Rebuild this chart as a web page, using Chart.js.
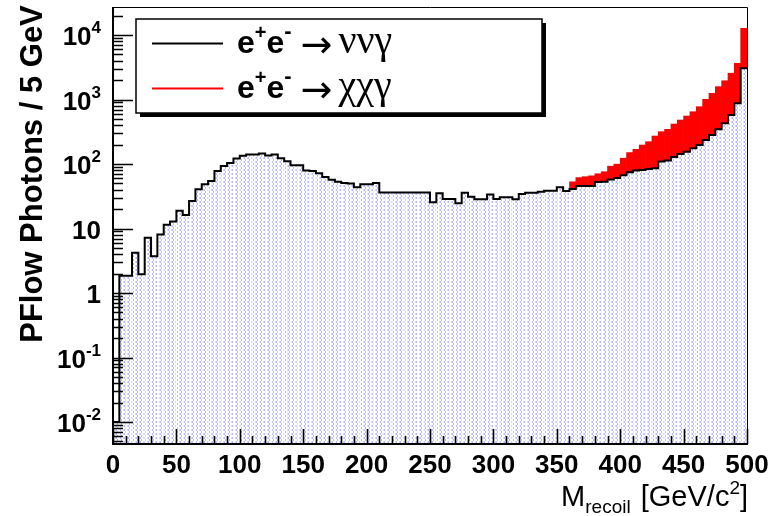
<!DOCTYPE html>
<html>
<head>
<meta charset="utf-8">
<title>Recoil mass</title>
<script src="https://cdn.jsdelivr.net/npm/chart.js@4.4.1/dist/chart.umd.min.js"></script>
<style>
  body { margin: 0; background: #fff; }
  canvas { display: block; }
</style>
</head>
<body>
<canvas id="recoilChart" width="772" height="516"></canvas>
<script>
// Recoil mass of PFlow photons, 5 GeV bins from 0 to 500 GeV/c^2
const binLow = 0;
const binWidth = 5;

// e+e- -> nu nu gamma, one entry per bin
const nunuGamma = [
  0.01, 1.86, 1.86, 4.2, 1.95, 7.2, 3.7, 8.1, 11.4, 12.8,
  18.9, 16.2, 26.7, 40.5, 48.4, 54.5, 77.8, 93, 104, 122,
  134, 140, 140, 146, 136, 140, 123, 110, 96, 96,
  79, 78, 72, 63, 57, 53, 51, 50, 43.5, 48.4,
  48.4, 51, 36.3, 36.3, 36.3, 36.3, 36.3, 36.3, 36.3, 36.3,
  25.5, 35.1, 28.7, 28.7, 24.6, 35.9, 31.2, 28.5, 28.5, 33.8,
  28.7, 30.4, 30.4, 28.5, 34.2, 35.8, 35.8, 37.2, 38.6, 38.6,
  43.8, 38.2, 41, 45.6, 45.6, 45.6, 52.6, 53, 57.7, 60.5,
  67, 74.5, 79, 81, 84, 85.7, 109, 113, 129, 143,
  155, 175, 197, 236, 282, 345, 427, 574, 872, 3045
];

// e+e- -> chi chi gamma, stacked on top of the background from 360 GeV
const signalFrom = 360;
const chichiGamma = [
  12, 16, 18, 20, 18, 23, 35, 39, 56, 76,
  90, 116, 138, 186, 208, 232, 288, 338, 400, 472,
  577, 771, 966, 1238, 1528, 1986, 2768, 9655
];

const seriesNames = ['ννγ', 'χχγ'];
const seriesColours = ['#000000', '#ff0000'];

const xTicks = [0, 50, 100, 150, 200, 250, 300, 350, 400, 450, 500];
const yTicks = [1e-2, 1e-1, 1, 10, 1e2, 1e3, 1e4];
const yTickLabels = [['10', '-2'], ['10', '-1'], ['1', ''], ['10', ''], ['10', '2'], ['10', '3'], ['10', '4']];
const yMin = 0.00456;
const yMax = 27200;

const SANS = '"Liberation Sans", Arial, Helvetica, sans-serif';
const SERIF = '"Liberation Serif", "Times New Roman", serif';

const canvas = document.getElementById('recoilChart');
const ctx2d = canvas.getContext('2d');

// light blue hatch used for the background histogram
function makeHatch() {
  const tile = document.createElement('canvas');
  tile.width = 4;
  tile.height = 4;
  const g = tile.getContext('2d');
  g.fillStyle = '#ffffff';
  g.fillRect(0, 0, 4, 4);
  g.fillStyle = 'rgb(182,182,246)';
  [[1, 0], [0, 1], [0, 2], [1, 3]].forEach(([px, py]) => g.fillRect(px, py, 1, 1));
  g.fillStyle = 'rgb(214,214,250)';
  [[3, 1], [3, 2]].forEach(([px, py]) => g.fillRect(px, py, 1, 1));
  return ctx2d.createPattern(tile, 'repeat');
}

const centre = i => binLow + binWidth * (i + 0.5);
const firstSignalBin = (signalFrom - binLow) / binWidth;

const backgroundBars = nunuGamma.map((v, i) => ({ x: centre(i), y: v }));
const signalBars = chichiGamma.map((v, i) => ({ x: centre(firstSignalBin + i), y: v }));

// outline: one point per lower bin edge, plus the closing edge
const outline = nunuGamma.map((v, i) => ({ x: binLow + binWidth * i, y: v }));
outline.push({ x: binLow + binWidth * nunuGamma.length, y: nunuGamma[nunuGamma.length - 1] });

// draw a run of text pieces (base text, sub- and superscripts) left to right
function drawParts(ctx, x, baseline, parts) {
  for (const p of parts) {
    ctx.font = p.font;
    x += p.before || 0;
    ctx.fillText(p.text, x, baseline + (p.dy || 0));
    x += ctx.measureText(p.text).width + (p.after || 0);
  }
  return x;
}

function partsWidth(ctx, parts) {
  let w = 0;
  for (const p of parts) {
    ctx.font = p.font;
    w += (p.before || 0) + ctx.measureText(p.text).width + (p.after || 0);
  }
  return w;
}

// frame, inward ticks, labels, titles and the legend box
const rootFrame = {
  id: 'rootFrame',
  afterDraw(chart) {
    const { ctx, chartArea: a, scales: { x, y } } = chart;
    ctx.save();
    ctx.strokeStyle = '#000';
    ctx.fillStyle = '#000';

    // top and right of the frame
    ctx.lineWidth = 1;
    ctx.beginPath();
    ctx.moveTo(a.left, a.top + 0.5);
    ctx.lineTo(a.right + 0.5, a.top + 0.5);
    ctx.lineTo(a.right + 0.5, a.bottom);
    ctx.stroke();

    // axis lines
    ctx.lineWidth = 2;
    ctx.beginPath();
    ctx.moveTo(a.left, a.top);
    ctx.lineTo(a.left, a.bottom);
    ctx.lineTo(a.right + 1, a.bottom);
    ctx.stroke();

    // x ticks every 10, long ones on the labels
    ctx.lineWidth = 1.6;
    ctx.beginPath();
    for (let v = xTicks[0]; v <= xTicks[xTicks.length - 1]; v += 10) {
      const px = Math.round(x.getPixelForValue(v)) + 0.5;
      const len = xTicks.includes(v) ? 15 : 8;
      ctx.moveTo(px, a.bottom);
      ctx.lineTo(px, a.bottom - len);
    }
    ctx.stroke();

    // y ticks, 1..9 per decade
    ctx.lineWidth = 1.5;
    ctx.beginPath();
    for (let e = -3; e <= 4; e++) {
      for (let k = 1; k <= 9; k++) {
        const v = k * Math.pow(10, e);
        if (v < y.min || v > y.max) continue;
        const py = Math.round(y.getPixelForValue(v)) + 0.5;
        ctx.moveTo(a.left, py);
        ctx.lineTo(a.left + (k === 1 ? 20 : 10), py);
      }
    }
    ctx.stroke();

    // x tick labels
    ctx.font = 'bold 26px ' + SANS;
    ctx.textAlign = 'center';
    ctx.textBaseline = 'alphabetic';
    xTicks.forEach(v => ctx.fillText(String(v), x.getPixelForValue(v), 473));

    // y tick labels with superscript exponents
    ctx.textAlign = 'left';
    yTicks.forEach((v, i) => {
      const [base, exp] = yTickLabels[i];
      const py = y.getPixelForValue(v);
      const parts = [{ text: base, font: 'bold 26px ' + SANS }];
      if (exp) parts.push({ text: exp, font: 'bold 17px ' + SANS, dy: -12 });
      const w = partsWidth(ctx, parts);
      drawParts(ctx, 101 - w, py + 10, parts);
    });

    // y title
    ctx.save();
    ctx.translate(42, 174);
    ctx.rotate(-Math.PI / 2);
    ctx.textAlign = 'center';
    ctx.font = 'bold 31px ' + SANS;
    ctx.fillText('PFlow Photons / 5 GeV', 0, 0);
    ctx.restore();

    // x title
    ctx.textAlign = 'left';
    const xTitle = [
      { text: 'M', font: '29px ' + SANS },
      { text: 'recoil', font: '19px ' + SANS, dy: 7, after: 2 },
      { text: ' [GeV/c', font: '29px ' + SANS },
      { text: '2', font: '19px ' + SANS, dy: -12 },
      { text: ']', font: '29px ' + SANS }
    ];
    drawParts(ctx, 748 - partsWidth(ctx, xTitle), 506, xTitle);

    // legend box with drop shadow
    const box = { left: 136, top: 19, width: 406, height: 94 };
    ctx.fillRect(box.left + 4, box.top + 4, box.width, box.height);
    ctx.fillStyle = '#fff';
    ctx.fillRect(box.left, box.top, box.width, box.height);
    ctx.lineWidth = 1.5;
    ctx.strokeRect(box.left, box.top, box.width, box.height);

    seriesNames.forEach((name, i) => {
      const rowY = 43.5 + 45 * i;
      ctx.strokeStyle = seriesColours[i];
      ctx.lineWidth = 2;
      ctx.beginPath();
      ctx.moveTo(152, rowY);
      ctx.lineTo(223, rowY);
      ctx.stroke();

      ctx.fillStyle = '#000';
      drawParts(ctx, 237, rowY + 9.5, [
        { text: 'e', font: 'bold 32px ' + SANS },
        { text: '+', font: 'bold 20px ' + SANS, dy: -14 },
        { text: 'e', font: 'bold 32px ' + SANS },
        { text: '-', font: 'bold 22px ' + SANS, dy: -15, after: 9 },
        { text: '→', font: '38px "DejaVu Sans", sans-serif', dy: 4, after: 6 },
        { text: name, font: '40px ' + SERIF }
      ]);
    });

    ctx.restore();
  }
};

const hatch = makeHatch();

new Chart(canvas, {
  data: {
    datasets: [
      {
        type: 'line',
        label: seriesNames[0],
        data: outline,
        stepped: true,
        borderColor: '#000',
        borderWidth: 2,
        pointRadius: 0,
        fill: false,
        order: 0
      },
      {
        type: 'bar',
        label: seriesNames[0],
        data: backgroundBars,
        backgroundColor: hatch,
        borderColor: 'rgba(255,255,255,0.65)',
        borderWidth: { left: 1, right: 0, top: 0, bottom: 0 },
        barPercentage: 1,
        categoryPercentage: 1,
        stack: 'mc',
        order: 1
      },
      {
        type: 'bar',
        label: seriesNames[1],
        data: signalBars,
        backgroundColor: '#ff0000',
        barPercentage: 1,
        categoryPercentage: 1,
        stack: 'mc',
        order: 2
      }
    ]
  },
  options: {
    responsive: false,
    animation: false,
    events: [],
    layout: { padding: { left: 113, top: 7, right: 25, bottom: 72 } },
    plugins: {
      legend: { display: false },
      tooltip: { enabled: false }
    },
    scales: {
      x: { type: 'linear', min: binLow, max: binLow + binWidth * nunuGamma.length, offset: false, stacked: true, display: false },
      y: { type: 'logarithmic', min: yMin, max: yMax, stacked: true, display: false }
    }
  },
  plugins: [rootFrame]
});
</script>
</body>
</html>
